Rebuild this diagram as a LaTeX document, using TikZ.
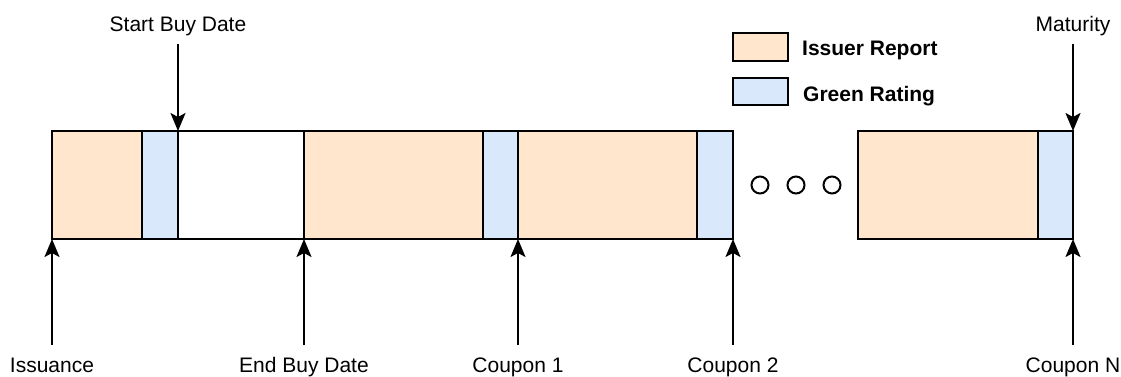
\documentclass[tikz,border=0pt]{standalone}
\usepackage{fontspec}
\setmainfont{Liberation Sans}
\usetikzlibrary{positioning,arrows.meta}

\definecolor{reportfill}{HTML}{FFE6CC}
\definecolor{ratingfill}{HTML}{DAE8FC}

\tikzset{
  seg/.style={draw, line width=2pt, inner sep=0, outer sep=0, minimum height=108pt, anchor=north west},
  report/.style={seg, fill=reportfill},
  rating/.style={seg, fill=ratingfill},
  blank/.style={seg, fill=white},
  key/.style={draw, line width=2pt, inner sep=0, outer sep=0, minimum width=55pt, anchor=north west},
  lbl/.style={inner sep=0, anchor=base, font=\fontsize{21}{25}\selectfont},
  keylbl/.style={inner sep=0, anchor=base west, font=\fontsize{21}{25}\selectfont\bfseries},
  dot/.style={circle, draw, line width=2pt, minimum size=17pt, inner sep=0},
  arr/.style={-{Stealth[length=18pt, width=15pt, inset=4pt]}, line width=2pt},
}

\begin{document}
\begin{tikzpicture}[x=1pt, y=-1pt, node distance=0pt]
            \useasboundingbox (0,0) rectangle (1121,376);
            % time bar
            \node[report, minimum width=90pt] (s1) at (52,131) {};
            \node[rating, minimum width=36pt, right=0pt of s1] (s2) {};
            \node[blank, minimum width=126pt, right=0pt of s2] (s3) {};
            \node[report, minimum width=179pt, right=0pt of s3] (s4) {};
            \node[rating, minimum width=35pt, right=0pt of s4] (s5) {};
            \node[report, minimum width=179pt, right=0pt of s5] (s6) {};
            \node[rating, minimum width=36pt, right=0pt of s6] (s7) {};
            \node[report, minimum width=180pt] (s8) at (858,131) {};
            \node[rating, minimum width=35pt, right=0pt of s8] (s9) {};
            % dots
            \node[dot] (d1) at (760,185) {};
            \node[dot] (d2) at (796,185) {};
            \node[dot] (d3) at (832,185) {};
            % legend
            \node[key, fill=reportfill, minimum height=28pt] (keyReport) at (733,33) {};
            \node[keylbl] (keyReportTxt) at (802,55) {Issuer Report};
            \node[key, fill=ratingfill, minimum height=27pt] (keyRating) at (733,78) {};
            \node[keylbl] (keyRatingTxt) at (803,101) {Green Rating};
            % top arrows
            \coordinate (tStart) at (178,44);
            \node[lbl] (lblStart) at (tStart |- 0,31.5) {Start Buy Date};
            \draw[arr] (tStart) -- (s3.north west);
            \coordinate (tMat) at (1073,44);
            \node[lbl] (lblMat) at (tMat |- 0,31.5) {Maturity};
            \draw[arr] (tMat) -- (s9.north east);
            % bottom arrows
            \foreach \seg/\anc/\name/\txt in {s1/south west/Iss/Issuance, s4/south west/End/End Buy Date,
                s6/south west/CpA/Coupon 1, s7/south east/CpB/Coupon 2, s9/south east/CpN/Coupon N}{
                \coordinate (b\name) at (\seg.\anc |- 0,345);
                \node[lbl] (lbl\name) at (b\name |- 0,372) {\txt};
                \draw[arr] (b\name) -- (\seg.\anc);
            }
\end{tikzpicture}
\end{document}
